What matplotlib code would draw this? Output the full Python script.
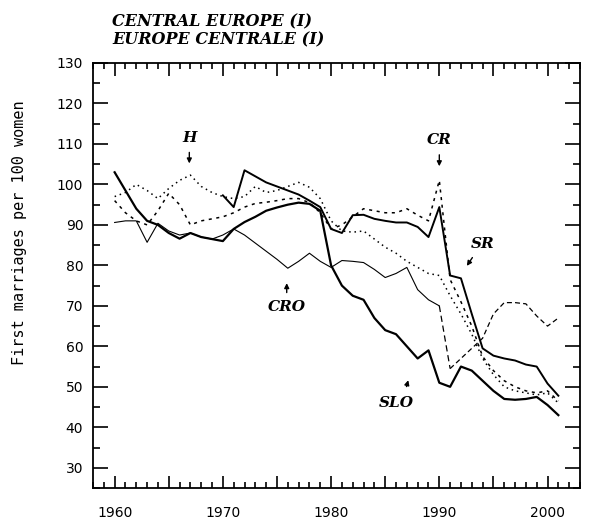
import numpy as np
import matplotlib
matplotlib.use('Agg')
import matplotlib.pyplot as plt
from matplotlib.ticker import MultipleLocator, FuncFormatter

# total female first marriage rate, per 100 women
years = list(range(1960, 2002))
years_sr = list(range(1970, 2002))

slo = [103, 98.5, 94, 91, 90, 88, 86.6, 88, 87, 86.5, 86, 89, 90.7, 92, 93.5,
       94.3, 95, 95.5, 95.2, 93.5, 80, 75, 72.5, 71.5, 67, 64, 63, 60, 57, 59,
       51, 50, 55, 54, 51.5, 49, 47, 46.8, 47, 47.5, 45.5, 43]
cro = [90.6, 91, 91, 85.7, 90.4, 88.5, 87.5, 88, 87, 86.5, 87.5, 89, 87.5, 85.5,
       83.5, 81.5, 79.3, 81, 83, 81, 79.5, 81.2, 81, 80.7, 79, 77, 78, 79.5, 74,
       71.5, 70, 54.5, 57, 59.5, 62, 68, 70.8, 70.8, 70.5, 67.5, 65, 67]
h = [97, 98, 100, 98.5, 96.5, 99, 101, 102.3, 99.5, 98, 97, 96.5, 97, 99.5,
     98, 98.5, 99.5, 100.5, 99.3, 96.5, 91, 88.5, 88.2, 88.5, 86.5, 84.5, 83,
     81, 79.5, 78, 77.5, 72.5, 68, 63, 57, 53, 50, 49, 48.5, 48, 48.5, 46]
cr = [96, 93, 91, 90, 93.5, 97.8, 95, 90, 91, 91.5, 92, 93, 94.4, 95.3, 95.6,
      96, 96.5, 96.5, 95.5, 93, 89, 90, 92, 94, 93.5, 93, 93, 94, 92.4, 91,
      101, 76.5, 71, 65, 57.5, 54, 51.5, 50, 49, 48.5, 49, 46.5]
sr = [97.3, 94.4, 103.5, 102, 100.5, 99.5, 98.5, 97.5, 96, 94.4, 89, 88, 92.4,
      92.5, 91.5, 91, 90.6, 90.6, 89.5, 87, 94.4, 77.5, 76.8, 68, 59.5, 57.7,
      57, 56.5, 55.5, 55, 50.8, 47.8]

fig = plt.figure(figsize=(5.89, 5.21), dpi=100)
ax = fig.add_axes([93/589, 1-488/521, 487/589, 425/521])

ax.plot(years, slo, '-', color='black', lw=1.6)
ax.plot(years_sr, sr, '-', color='black', lw=1.4)
ax.plot(years[:31], cro[:31], '-', color='black', lw=0.8)
ax.plot(years[30:32], cro[30:32], color='black', lw=0.9, linestyle=(0, (5, 3)))
ax.plot(years[31:], cro[31:], color='black', lw=0.9, linestyle=(0, (4, 2.5)))
ax.plot(years, h, color='black', lw=1.1, linestyle=(0, (1, 2.5)))
ax.plot(years, cr, color='black', lw=1.1, linestyle=(0, (2, 3)))

ax.set_xlim(1958, 2003)
ax.set_ylim(25, 130)

ax.xaxis.set_major_locator(MultipleLocator(5))
ax.xaxis.set_minor_locator(MultipleLocator(1))
ax.xaxis.set_major_formatter(FuncFormatter(lambda v, p: '%d' % v if v % 10 == 0 else ''))
ax.yaxis.set_major_locator(MultipleLocator(10))
ax.yaxis.set_minor_locator(MultipleLocator(5))
ax.tick_params(which='both', direction='in', top=True, right=True, width=1.2)
ax.tick_params(axis='x', which='major', length=9, pad=13, labelsize=10)
ax.tick_params(axis='x', which='minor', length=4.5)
ax.tick_params(axis='y', which='major', length=11, pad=7, labelsize=10)
ax.tick_params(axis='y', which='minor', length=5)
ax.set_yticks([30, 40, 50, 60, 70, 80, 90, 100, 110, 120, 130])
for s in ax.spines.values():
    s.set_linewidth(1.3)

ax.set_ylabel('First marriages per 100 women', family='DejaVu Sans Mono',
              fontsize=11)
ax.yaxis.set_label_coords(-0.135, 0.6)

# titles
tfont = dict(family='DejaVu Serif', weight='bold', style='italic', fontsize=11.5)
fig.text(112/589, 1-22/521, 'CENTRAL EUROPE (I)', va='center', ha='left', **tfont)
fig.text(112/589, 1-40/521, 'EUROPE CENTRALE (I)', va='center', ha='left', **tfont)

# country labels
lfont = dict(family='DejaVu Serif', weight='bold', style='italic', fontsize=11,
             ha='center', va='center')
arw = dict(arrowstyle='-|>', color='black', lw=1.0, mutation_scale=7)
ax.text(1966.9, 111.4, 'H', **lfont)
ax.annotate('', xy=(1966.9, 104.5), xytext=(1966.9, 108.6), arrowprops=arw)
ax.text(1990.0, 110.9, 'CR', **lfont)
ax.annotate('', xy=(1990.0, 103.8), xytext=(1990.0, 108.0), arrowprops=arw)
ax.text(1994.0, 85.4, 'SR', **lfont)
ax.annotate('', xy=(1992.4, 79.3), xytext=(1993.2, 82.5), arrowprops=arw)
ax.text(1975.9, 69.6, 'CRO', **lfont)
ax.annotate('', xy=(1975.9, 76.3), xytext=(1975.9, 72.6), arrowprops=arw)
ax.text(1986.0, 46.1, 'SLO', **lfont)
ax.annotate('', xy=(1987.2, 52.3), xytext=(1986.9, 49.4), arrowprops=arw)

plt.savefig('out.png', dpi=100)
